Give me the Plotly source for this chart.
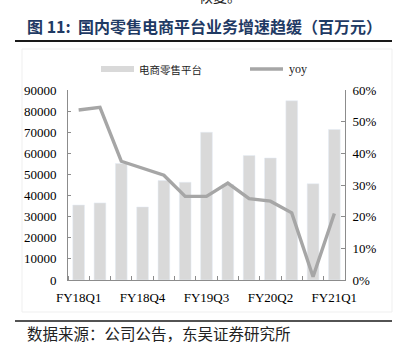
import plotly.graph_objects as go

# Quarterly data: domestic retail marketplace revenue (RMB mn) and YoY growth
quarters = ["FY18Q1", "FY18Q2", "FY18Q3", "FY18Q4",
            "FY19Q1", "FY19Q2", "FY19Q3", "FY19Q4",
            "FY20Q1", "FY20Q2", "FY20Q3", "FY20Q4",
            "FY21Q1"]
revenue = [35500, 36500, 55200, 34600,
           47100, 46300, 70000, 45200,
           59000, 57800, 84900, 45600,
           71300]
yoy = [53.7, 54.5, 37.5, 35.3,
       33.1, 26.4, 26.4, 30.6,
       25.7, 24.9, 21.2, 1.0,
       21.0]

bar_name = "电商零售平台"
line_name = "yoy"
title_text = "图 11:  国内零售电商平台业务增速趋缓（百万元）"
source_text = "数据来源：公司公告，东吴证券研究所"
prev_text = "恢复。"

W, H = 396, 350
L, R, T, B = 68, 345, 90, 280

BAR_C = "#d9d9d9"
LINE_C = "#a6a6a6"
AXIS_C = "#8c8c8c"
SERIF = "Times New Roman, Liberation Serif, serif"
CJK = "Noto Sans CJK SC, sans-serif"


def px(x):
    return (x - L) / (R - L)


def py(y):
    return (B - y) / (B - T)


idx = list(range(len(quarters)))

fig = go.Figure()
fig.add_trace(go.Bar(x=idx, y=revenue, name=bar_name, marker_color=BAR_C,
                     width=0.55, showlegend=False))
fig.add_trace(go.Scatter(x=idx, y=yoy, name=line_name, yaxis="y2",
                         mode="lines", line=dict(color=LINE_C, width=3.4),
                         showlegend=False))

fig.update_layout(
    width=W, height=H,
    margin=dict(l=L, r=W - R, t=T, b=H - B),
    paper_bgcolor="white", plot_bgcolor="white",
    font=dict(family=SERIF, size=13, color="#000"),
    xaxis=dict(
        range=[-0.5, len(quarters) - 0.5],
        tickvals=idx[::3], ticktext=quarters[::3],
        ticks="", showline=True, linecolor=AXIS_C, linewidth=1,
        showgrid=False, zeroline=False, ticklabelstandoff=5,
        minor=dict(tickvals=[i - 0.5 for i in idx] + [len(idx) - 0.5],
                   ticks="inside", ticklen=4, tickcolor=AXIS_C, showgrid=False),
    ),
    yaxis=dict(
        range=[0, 90000], dtick=10000, tickformat="d",
        ticks="inside", ticklen=3, tickcolor=AXIS_C,
        showline=True, linecolor=AXIS_C, linewidth=1,
        showgrid=False, zeroline=False, ticklabelstandoff=8,
    ),
    yaxis2=dict(
        overlaying="y", side="right",
        range=[0, 60], dtick=10, ticksuffix="%",
        ticks="inside", ticklen=4, tickcolor=AXIS_C,
        showline=True, linecolor=AXIS_C, linewidth=1,
        showgrid=False, zeroline=False, ticklabelstandoff=4,
    ),
    bargap=0.45,
)

shapes = [
    # faint chart frame
    dict(type="rect", xref="paper", yref="paper",
         x0=px(22), x1=px(392), y0=py(312), y1=py(49),
         line=dict(color="#efefef", width=1), layer="below"),
    # rule under the title
    dict(type="line", xref="paper", yref="paper",
         x0=px(15), x1=px(392), y0=py(41), y1=py(41),
         line=dict(color="#1a1a1a", width=2)),
    # rule above the source note
    dict(type="line", xref="paper", yref="paper",
         x0=px(15), x1=px(392), y0=py(321), y1=py(321),
         line=dict(color="#1a1a1a", width=1.6)),
    # legend swatches
    dict(type="rect", xref="paper", yref="paper",
         x0=px(101), x1=px(134), y0=py(72), y1=py(66),
         fillcolor=BAR_C, line=dict(width=0)),
    dict(type="line", xref="paper", yref="paper",
         x0=px(250), x1=px(283), y0=py(69), y1=py(69),
         line=dict(color=LINE_C, width=3.4)),
]

annotations = [
    dict(text=prev_text, xref="paper", yref="paper", x=px(220), y=py(8),
         xanchor="center", yanchor="bottom", showarrow=False,
         font=dict(family=CJK, size=14, color="#222")),
    dict(text="<b>" + title_text + "</b>", xref="paper", yref="paper",
         x=px(25), y=py(26), xanchor="left", yanchor="middle", showarrow=False,
         font=dict(family=CJK, size=16, color="#1f3a64")),
    dict(text=bar_name, xref="paper", yref="paper", x=px(137), y=py(69),
         xanchor="left", yanchor="middle", showarrow=False,
         font=dict(family=CJK, size=10.5, color="#222")),
    dict(text=line_name, xref="paper", yref="paper", x=px(287), y=py(69),
         xanchor="left", yanchor="middle", showarrow=False,
         font=dict(family=SERIF, size=12, color="#222")),
    dict(text=source_text, xref="paper", yref="paper", x=px(25), y=py(333),
         xanchor="left", yanchor="middle", showarrow=False,
         font=dict(family=CJK, size=15.5, color="#222")),
]

fig.update_layout(shapes=shapes, annotations=annotations)
fig.write_html("out.html")
